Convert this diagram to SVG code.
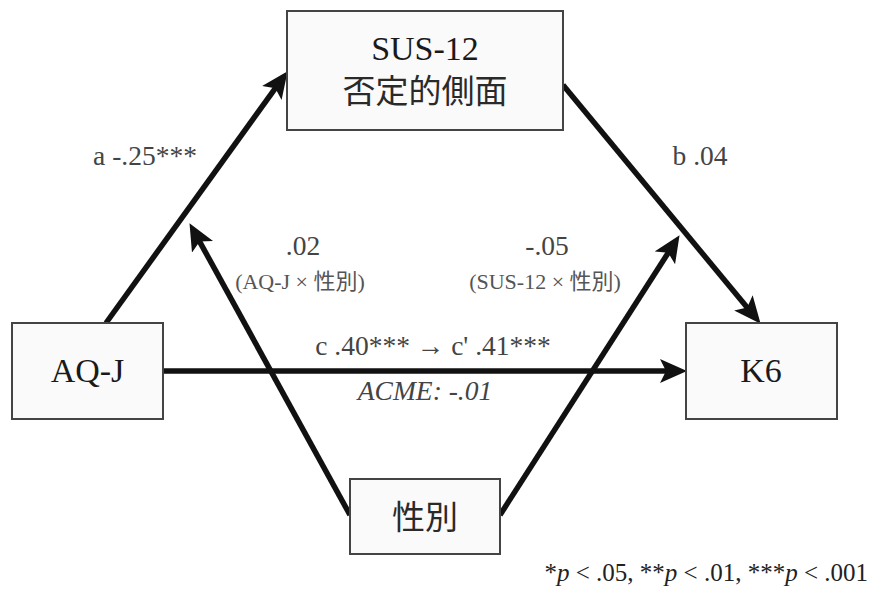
<svg xmlns="http://www.w3.org/2000/svg" width="876" height="590" viewBox="0 0 876 590">
<style>
.box{fill:#fafafa;stroke:#444;stroke-width:2}
.nt{font-family:"Liberation Serif","Times New Roman","DejaVu Serif",serif;font-size:34px;fill:#1a1a1a;text-anchor:middle}
.cj{font-family:"Noto Sans CJK JP",sans-serif;font-size:33px;fill:#2a2a2a;text-anchor:middle}
.lb{font-family:"Liberation Serif","Times New Roman","DejaVu Serif",serif;font-size:27.5px;fill:#444;text-anchor:middle}
.sm{font-family:"Liberation Serif","Times New Roman","Noto Sans CJK JP",serif;font-size:22px;fill:#555;text-anchor:middle}
.ln{stroke:#111;stroke-width:5.5;fill:none;marker-end:url(#ah)}
</style>
<defs>
<marker id="ah" markerUnits="userSpaceOnUse" markerWidth="30" markerHeight="26" refX="16" refY="12" orient="auto">
<path d="M0,0 L27,12 L0,24 L6,12 z" fill="#111"/>
</marker>
</defs>
<rect width="876" height="590" fill="#fff"/>
<g id="connectors">
<line class="ln" x1="106" y1="323" x2="281.2" y2="80.1"/>
<line class="ln" x1="563" y1="85" x2="753.6" y2="315.3"/>
<line class="ln" x1="163" y1="371" x2="676" y2="371"/>
<line class="ln" x1="350" y1="515" x2="194.8" y2="232.8"/>
<line class="ln" x1="500" y1="515" x2="673.6" y2="244.4"/>
</g>
<g id="sus12">
<rect class="box" x="287" y="11" width="276" height="119"/>
<text class="nt" x="425" y="60">SUS-12</text>
<text class="cj" x="425" y="103" font-size="34">否定的側面</text>
</g>
<g id="aqj">
<rect class="box" x="12" y="323" width="151" height="96"/>
<text class="nt" x="87.5" y="382">AQ-J</text>
</g>
<g id="k6">
<rect class="box" x="686" y="323" width="151" height="96"/>
<text class="nt" x="761" y="382">K6</text>
</g>
<g id="gender">
<rect class="box" x="350" y="479" width="150" height="75"/>
<text class="cj" x="425" y="529">性別</text>
</g>
<g id="labels">
<text class="lb" x="145" y="165">a -.25***</text>
<text class="lb" x="700" y="165">b .04</text>
<text class="lb" x="303" y="255">.02</text>
<text class="sm" x="300" y="289">(AQ-J × 性別)</text>
<text class="lb" x="547" y="255">-.05</text>
<text class="sm" x="545" y="289">(SUS-12 × 性別)</text>
<text class="lb" x="433" y="355">c .40*** → c' .41***</text>
<text class="lb" x="425" y="400" font-style="italic">ACME: -.01</text>
<text class="lb" x="868" y="581" style="text-anchor:end;fill:#222;font-size:25px">*<tspan font-style="italic">p</tspan> &lt; .05, **<tspan font-style="italic">p</tspan> &lt; .01, ***<tspan font-style="italic">p</tspan> &lt; .001</text>
</g>
</svg>
